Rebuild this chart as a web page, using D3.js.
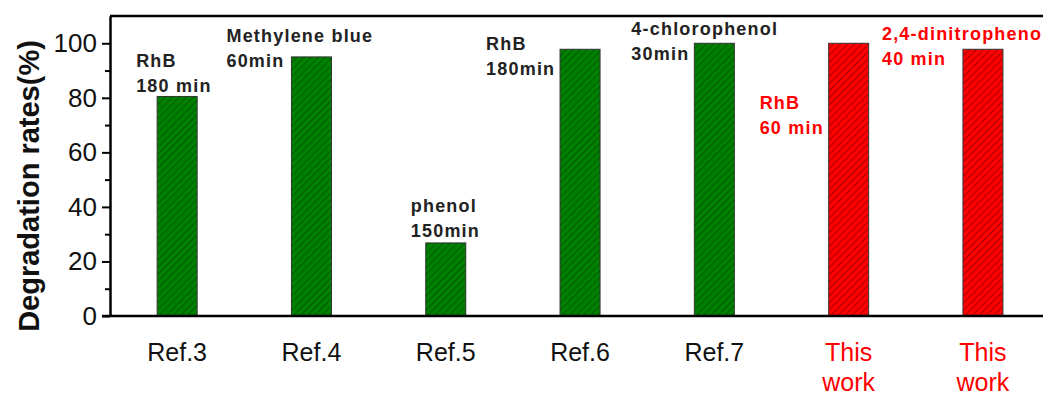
<!DOCTYPE html>
<html>
<head>
<meta charset="utf-8">
<script src="https://cdn.jsdelivr.net/npm/d3@7"></script>
<style>
  body { margin: 0; background: #fff; }
  svg { display: block; font-family: "Liberation Sans", Arial, sans-serif; }
</style>
</head>
<body>
<div id="chart"></div>
<script>
// data
const categories = ["Ref.3", "Ref.4", "Ref.5", "Ref.6", "Ref.7", "This work 1", "This work 2"];
const tickLabels = [["Ref.3"], ["Ref.4"], ["Ref.5"], ["Ref.6"], ["Ref.7"], ["This", "work"], ["This", "work"]];
const rates = [80.5, 95, 26.8, 97.8, 100, 100, 97.8];
const isThisWork = [false, false, false, false, false, true, true];
const notes = [
  ["RhB", "180 min"],
  ["Methylene blue", "60min"],
  ["phenol", "150min"],
  ["RhB", "180min"],
  ["4-chlorophenol", "30min"],
  ["RhB", "60 min"],
  ["2,4-dinitrophenol", "40 min"]
];
const yMajor = [0, 20, 40, 60, 80, 100];
const yMinor = [10, 30, 50, 70, 90];

// note placement relative to bar centre (px) and first baseline (px)
const noteLayout = [
  { dx: -41, y: 67 },
  { dx: -85, y: 42 },
  { dx: -35, y: 212 },
  { dx: -94, y: 50 },
  { dx: -83, y: 35 },
  { dx: -89, y: 109 },
  { dx: -101, y: 40 }
];

const width = 1043, height = 394;
const margin = { top: 16, left: 110, bottom: 78 };
const plotBottom = height - margin.bottom;
const barWidth = 40;

const svg = d3.select("#chart").append("svg")
  .attr("width", width)
  .attr("height", height);

const defs = svg.append("defs");
function hatch(id, bg, line) {
  const p = defs.append("pattern")
    .attr("id", id)
    .attr("patternUnits", "userSpaceOnUse")
    .attr("width", 5)
    .attr("height", 5)
    .attr("patternTransform", "rotate(45)");
  p.append("rect").attr("width", 5).attr("height", 5).attr("fill", bg);
  p.append("line")
    .attr("x1", 0).attr("y1", 0).attr("x2", 0).attr("y2", 5)
    .attr("stroke", line).attr("stroke-width", 1.1);
}
hatch("hatchGreen", "#008000", "#003a00");
hatch("hatchRed", "#ff0000", "#5a0000");

const x = d3.scaleBand()
  .domain(categories)
  .range([margin.left, margin.left + 7 * 134.3])
  .padding(0);

const y = d3.scaleLinear()
  .domain([0, 110])
  .range([plotBottom, margin.top]);

const cx = (d) => x(d) + x.bandwidth() / 2;

// bars
svg.append("g")
  .selectAll("rect")
  .data(categories)
  .enter()
  .append("rect")
  .attr("x", (d) => cx(d) - barWidth / 2)
  .attr("y", (d, i) => y(rates[i]))
  .attr("width", barWidth)
  .attr("height", (d, i) => y(0) - y(rates[i]))
  .attr("fill", (d, i) => isThisWork[i] ? "url(#hatchRed)" : "url(#hatchGreen)")
  .attr("stroke", "#333")
  .attr("stroke-width", 1);

// frame
svg.append("line")
  .attr("x1", margin.left).attr("x2", width + 10)
  .attr("y1", margin.top).attr("y2", margin.top)
  .attr("stroke", "#000").attr("stroke-width", 2.5);

// y axis
const yAxis = svg.append("g")
  .attr("transform", `translate(${margin.left},0)`)
  .call(d3.axisLeft(y).tickValues(yMajor).tickSize(8).tickPadding(5).tickSizeOuter(0));
yAxis.select(".domain").attr("stroke-width", 2.5);
yAxis.selectAll(".tick line").attr("stroke-width", 2);
yAxis.selectAll(".tick text")
  .attr("font-size", 26)
  .attr("font-family", "'Liberation Sans', Arial, sans-serif")
  .attr("fill", "#111");

const yAxisMinor = svg.append("g")
  .attr("transform", `translate(${margin.left},0)`)
  .call(d3.axisLeft(y).tickValues(yMinor).tickSize(5).tickFormat(""));
yAxisMinor.select(".domain").remove();
yAxisMinor.selectAll(".tick line").attr("stroke-width", 2);

// bottom axis line
svg.append("line")
  .attr("x1", margin.left - 8).attr("x2", width + 10)
  .attr("y1", plotBottom).attr("y2", plotBottom)
  .attr("stroke", "#000").attr("stroke-width", 2.5);

// x labels
const xl = svg.append("g")
  .selectAll("text")
  .data(categories)
  .enter()
  .append("text")
  .attr("x", (d) => cx(d))
  .attr("y", 361)
  .attr("text-anchor", "middle")
  .attr("font-size", 25)
  .attr("fill", (d, i) => isThisWork[i] ? "#ff0000" : "#111");
xl.selectAll("tspan")
  .data((d, i) => tickLabels[i])
  .enter()
  .append("tspan")
  .attr("x", function () { return d3.select(this.parentNode).attr("x"); })
  .attr("dy", (d, j) => j === 0 ? 0 : 30)
  .text((d) => d);

// annotations
const nt = svg.append("g")
  .selectAll("text")
  .data(categories)
  .enter()
  .append("text")
  .attr("x", (d, i) => cx(d) + noteLayout[i].dx)
  .attr("y", (d, i) => noteLayout[i].y)
  .attr("font-size", 18)
  .attr("font-weight", "bold")
  .attr("letter-spacing", 1.2)
  .attr("fill", (d, i) => isThisWork[i] ? "#ff0000" : "#222");
nt.selectAll("tspan")
  .data((d, i) => notes[i])
  .enter()
  .append("tspan")
  .attr("x", function () { return d3.select(this.parentNode).attr("x"); })
  .attr("dy", (d, j) => j === 0 ? 0 : 25)
  .text((d) => d);

// y title
svg.append("text")
  .attr("transform", `translate(39,${(margin.top + plotBottom) / 2 + 20}) rotate(-90)`)
  .attr("text-anchor", "middle")
  .attr("font-size", 29)
  .attr("font-weight", "bold")
  .attr("fill", "#111")
  .text("Degradation rates(%)");
</script>
</body>
</html>
